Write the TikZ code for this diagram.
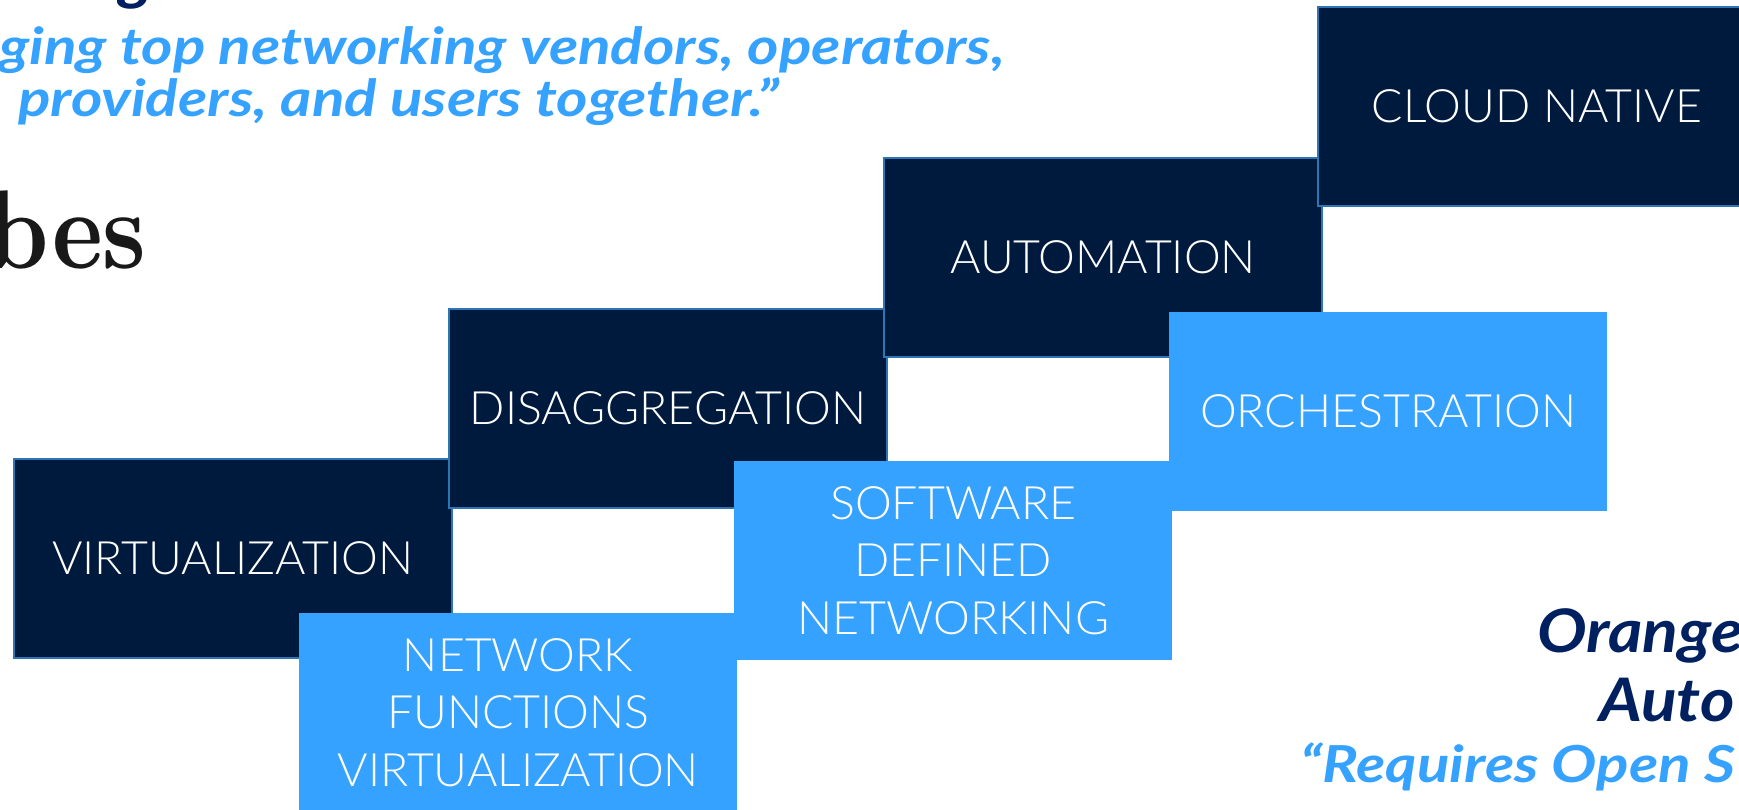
\documentclass[tikz,border=0pt]{standalone}
\usepackage{fontspec}
\newfontfamily\boxfont{Lato Light}[FakeStretch=1.01]
\newfontfamily\quotefont{Lato}[FakeStretch=1.18]
\newfontfamily\titlefont{Lato}[FakeStretch=1.1]
\newfontfamily\forbesfont{lmroman10-bold.otf}[FakeStretch=0.86]
\definecolor{navy}{RGB}{0,26,62}
\definecolor{edgeblue}{RGB}{46,117,182}
\definecolor{sky}{RGB}{54,162,255}
\definecolor{navytext}{RGB}{0,32,96}
\tikzset{
  tile/.style={rectangle, anchor=north west, inner sep=0pt, text=white, align=center,
    minimum width=438pt, minimum height=199pt,
    font=\boxfont\fontsize{46}{57.5}\selectfont},
  darktile/.style={tile, fill=navy, draw=edgeblue, line width=2pt},
  lighttile/.style={tile, fill=sky},
  quoteline/.style={inner sep=0pt, text=sky, font=\quotefont\bfseries\itshape\fontsize{51}{58}\selectfont},
  titleline/.style={inner sep=0pt, text=navytext, font=\titlefont\bfseries\itshape\fontsize{60}{70}\selectfont},
}
\begin{document}
\begin{tikzpicture}[x=1pt,y=-1pt]
\useasboundingbox (0,0) rectangle (1739,809);
\clip (0,0) rectangle (1739,809);
\fill[white] (0,0) rectangle (1739,809);
% top-left quote
\node[titleline, anchor=base east] (title) at (153,-2) {rking};
\node[quoteline, anchor=base east] (q1) at (1005,64) {ging top networking vendors, operators,};
\node[quoteline, anchor=base east] (q2) at (779,116) {providers, and users together.”};
\node[inner sep=0pt, anchor=base east, text=black!90, font=\forbesfont\fontsize{112}{120}\selectfont] (forbes) at (147,268) {bes};
% dark tiles
\node[darktile] (virt) at (13,458) {VIRTUALIZATION};
\node[darktile] (disagg) at (448,308) {DISAGGREGATION};
\node[darktile] (auto) at (883,157) {AUTOMATION};
\node[darktile] (cloud) at (1317,6) {CLOUD NATIVE};
% light tiles
\node[lighttile] (nfv) at (299,613) {NETWORK\\FUNCTIONS\\VIRTUALIZATION};
\node[lighttile] (sdn) at (734,461) {SOFTWARE\\DEFINED\\NETWORKING};
\node[lighttile] (orch) at (1169,312) {ORCHESTRATION};
% bottom-right quote
\node[titleline, anchor=base west] (orange) at (1537,652) {Orange};
\node[titleline, anchor=base west] (automation) at (1599,721) {Auto};
\node[quoteline, anchor=base west] (req) at (1300,782) {“Requires Open S};
\end{tikzpicture}
\end{document}
